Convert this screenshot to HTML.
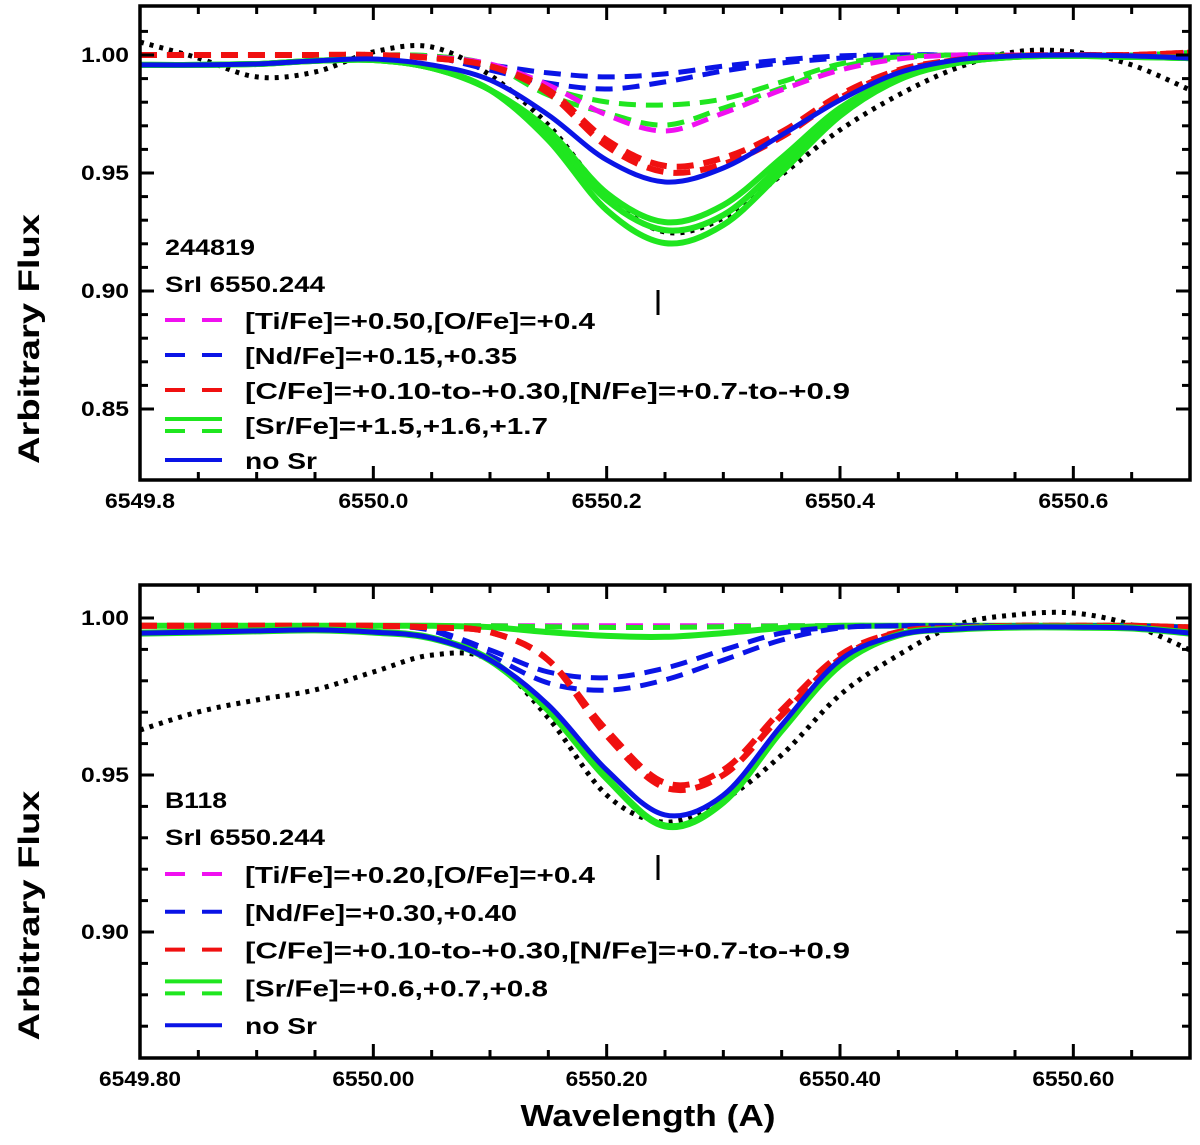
<!DOCTYPE html>
<html><head><meta charset="utf-8">
<style>
html,body{margin:0;padding:0;background:#fff;}
svg{display:block;font-family:"Liberation Sans",sans-serif;font-weight:bold;}
</style></head>
<body>
<svg id="chart" width="1200" height="1145" viewBox="0 0 1200 1145" xmlns="http://www.w3.org/2000/svg"></svg>
<script>
// shared wavelength grid
const waves = [6549.80,6549.85,6549.90,6549.95,6550.00,6550.05,6550.10,6550.15,6550.20,6550.25,6550.30,6550.35,6550.40,6550.45,6550.50,6550.55,6550.60,6550.65,6550.70];

// ---- top panel (244819) ----
const topObserved = [1.0055,0.9987,0.9907,0.9928,1.0013,1.0034,0.9915,0.9703,0.9407,0.925,0.9309,0.9492,0.9682,0.983,0.9945,1.0013,1.0013,0.9958,0.9852];
const topNoSr = [0.9958,0.9958,0.9962,0.9975,0.9983,0.9958,0.9894,0.9746,0.9555,0.9462,0.9521,0.9661,0.9809,0.9924,0.9979,0.9996,1.0,0.9996,0.9987];
const topSrSolid1 = [0.9958,0.9958,0.9962,0.9975,0.9979,0.9945,0.9852,0.9682,0.9415,0.9292,0.9364,0.9564,0.9775,0.9903,0.9966,0.9992,0.9996,0.9992,0.9987];
const topSrSolid2 = [0.9958,0.9958,0.9962,0.9975,0.9979,0.9945,0.9852,0.9661,0.9386,0.9258,0.9322,0.9534,0.9758,0.9903,0.9966,0.9992,0.9996,0.9992,0.9987];
const topSrSolid3 = [0.9958,0.9958,0.9962,0.9975,0.9979,0.9945,0.9852,0.964,0.9343,0.9203,0.928,0.9504,0.9742,0.9894,0.9966,0.9992,0.9996,0.9992,0.9987];
const topSrDash1 = [1,1,1,1,1,0.9996,0.9958,0.986,0.9801,0.9788,0.9814,0.9886,0.9962,0.9992,1,1,1,1,1.001];
const topSrDash2 = [1,1,1,1,1,0.9996,0.9958,0.983,0.9754,0.9703,0.9775,0.986,0.9949,0.9987,1,1,1,1,1.001];
const topC1 = [1,1,1,1,1,0.9987,0.9953,0.9852,0.964,0.953,0.9564,0.9674,0.9831,0.9936,0.9979,0.9996,1,1,1.001];
const topC2 = [1,1,1,1,1,0.9987,0.9953,0.9839,0.9614,0.9504,0.9538,0.9653,0.9818,0.993,0.9979,0.9996,1,1,1.001];
const topTi = [1,1,1,1,1,0.9992,0.9962,0.9873,0.9746,0.9678,0.9754,0.9852,0.9936,0.9983,1,1,1,1,1.001];
const topNd1 = [1,1,1,1,1,0.9992,0.9958,0.9924,0.9907,0.992,0.9953,0.9979,0.9996,1,1,1,1,1,1.001];
const topNd2 = [1,1,1,1,1,0.9992,0.9936,0.9881,0.9856,0.9886,0.9932,0.9966,0.9987,1,1,1,1,1,1.001];

// ---- bottom panel (B118) ----
const botObserved = [0.9643,0.9701,0.9739,0.9771,0.9828,0.9882,0.9866,0.9682,0.9436,0.935,0.942,0.9564,0.9755,0.9882,0.9978,1.001,1.0016,0.9978,0.9898];
const botNoSr = [0.9952,0.9955,0.9959,0.9962,0.9955,0.9936,0.9866,0.9723,0.9516,0.9373,0.9436,0.9659,0.9866,0.9946,0.9965,0.9971,0.9971,0.9968,0.9952];
const botSrSolidDeep = [0.9952,0.9955,0.9959,0.9962,0.9955,0.9936,0.9866,0.9707,0.949,0.9338,0.9414,0.9643,0.985,0.9946,0.9965,0.9971,0.9971,0.9968,0.9952];
const botSrSolidShallow = [0.9975,0.9975,0.9975,0.9975,0.9975,0.9975,0.9971,0.9955,0.9943,0.994,0.9952,0.9968,0.9975,0.9975,0.9975,0.9975,0.9975,0.9975,0.997];
const botSrDash = [0.9975,0.9975,0.9975,0.9975,0.9975,0.9975,0.9975,0.9972,0.997,0.997,0.9972,0.9975,0.9975,0.9975,0.9975,0.9975,0.9975,0.997,0.9965];
const botTi = [0.9975,0.9975,0.9975,0.9975,0.9975,0.9975,0.9975,0.9975,0.9975,0.9975,0.9975,0.9975,0.9975,0.9975,0.9975,0.9975,0.9975,0.9975,0.997];
const botC1 = [0.9975,0.9975,0.9975,0.9975,0.9975,0.997,0.9955,0.9866,0.9643,0.9475,0.9516,0.9707,0.9882,0.9955,0.9968,0.9975,0.9975,0.9975,0.997];
const botC2 = [0.9975,0.9975,0.9975,0.9975,0.9975,0.997,0.9955,0.9866,0.9625,0.946,0.95,0.969,0.987,0.9955,0.9968,0.9975,0.9975,0.9975,0.997];
const botNd1 = [0.9975,0.9975,0.9975,0.9975,0.9975,0.9962,0.9898,0.9828,0.981,0.984,0.9898,0.9952,0.9971,0.9975,0.9975,0.9975,0.9975,0.9975,0.997];
const botNd2 = [0.9975,0.9975,0.9975,0.9975,0.9975,0.996,0.988,0.9793,0.977,0.9803,0.9866,0.993,0.9968,0.9975,0.9975,0.9975,0.9975,0.9975,0.997];

// tick labels
const topXLabels = ["6549.8","6550.0","6550.2","6550.4","6550.6"];
const botXLabels = ["6549.80","6550.00","6550.20","6550.40","6550.60"];
const xTickValues = [6549.8,6550.0,6550.2,6550.4,6550.6];
const topYLabels = ["1.00","0.95","0.90","0.85"];
const topYValues = [1.00,0.95,0.90,0.85];
const botYLabels = ["1.00","0.95","0.90"];
const botYValues = [1.00,0.95,0.90];

const NS = "http://www.w3.org/2000/svg";
const svg = document.getElementById('chart');
function mk(tag, attrs, parent){
  const e = document.createElementNS(NS, tag);
  for (const k in attrs) e.setAttribute(k, attrs[k]);
  (parent||svg).appendChild(e);
  return e;
}
function smoothPath(pts){
  let d = `M${pts[0][0].toFixed(1)},${pts[0][1].toFixed(1)}`;
  for (let i=0;i<pts.length-1;i++){
    const p0=pts[Math.max(0,i-1)], p1=pts[i], p2=pts[i+1], p3=pts[Math.min(pts.length-1,i+2)];
    const c1x=p1[0]+(p2[0]-p0[0])/6, c1y=p1[1]+(p2[1]-p0[1])/6;
    const c2x=p2[0]-(p3[0]-p1[0])/6, c2y=p2[1]-(p3[1]-p1[1])/6;
    d += ` C${c1x.toFixed(1)},${c1y.toFixed(1)} ${c2x.toFixed(1)},${c2y.toFixed(1)} ${p2[0].toFixed(1)},${p2[1].toFixed(1)}`;
  }
  return d;
}

function panel(cfg){
  const g = mk('g', {});
  
  
  const L=140, R=1190, T=cfg.top, B=cfg.bottom;
  const xS = w => L + (w - 6549.8) / (6550.7 - 6549.8) * (R - L);
  const yS = v => cfg.y100 + (1.0 - v) / 0.05 * cfg.pxPer05;
  const clip = mk('clipPath', {id: cfg.name+'-clip'}, g);
  mk('rect', {x:L, y:T, width:R-L, height:B-T}, clip);
  const plot = mk('g', {'clip-path': `url(#${cfg.name}-clip)`}, g);
  cfg.series.forEach(s => {
    const pts = waves.map((w,i) => [xS(w), yS(s.data[i])]);
    const attrs = {d: smoothPath(pts), fill:'none', stroke:s.color, 'stroke-width':s.w||5, 'stroke-linejoin':'round'};
    if (s.dash) attrs['stroke-dasharray'] = s.dash;
    const p = mk('path', attrs, plot);
    
    
  });
  const fr = mk('rect', {x:L, y:T, width:R-L, height:B-T, fill:'none', stroke:'#000', 'stroke-width':3.5}, g);
  
  
  for (let k=0;k<=18;k++){
    const x = xS(6549.8 + k*0.05);
    const major = k % 4 === 0;
    const len = major ? 14 : 8;
    mk('line', {x1:x, y1:B, x2:x, y2:B-len, stroke:'#000','stroke-width':3}, g);
    mk('line', {x1:x, y1:T, x2:x, y2:T+len, stroke:'#000','stroke-width':3}, g);
  }
  for (let v = 0.85; v <= 1.03; v += 0.01){
    const y = yS(v);
    if (y < T+2 || y > B-2) continue;
    const major = Math.abs(Math.round(v*100) % 5) === 0;
    const len = major ? 14 : 8;
    mk('line', {x1:L, y1:y, x2:L+len, y2:y, stroke:'#000','stroke-width':3}, g);
    mk('line', {x1:R, y1:y, x2:R-len, y2:y, stroke:'#000','stroke-width':3}, g);
  }
  cfg.xLabels.forEach((lab,i) => {
    const t = mk('text', {x:xS(xTickValues[i]), y:B+28, 'text-anchor':'middle','font-size':21, textLength:cfg.xLabLen, lengthAdjust:'spacingAndGlyphs'}, g);
    t.textContent = lab;
    
    
  });
  cfg.yLabels.forEach((lab,i) => {
    const t = mk('text', {x:129, y:yS(cfg.yValues[i])+7, 'text-anchor':'end','font-size':21, textLength:48, lengthAdjust:'spacingAndGlyphs'}, g);
    t.textContent = lab;
    
    
  });
  const cy = (T+B)/2 + cfg.titleOff;
  const yt = mk('text', {x:0, y:0, transform:`translate(39,${cy}) rotate(-90)`, 'text-anchor':'middle','font-size':30, textLength:250, lengthAdjust:'spacingAndGlyphs'}, g);
  yt.textContent = 'Arbitrary Flux';
  
  
  const t1 = mk('text', {x:165, y:cfg.nameY, 'font-size':22, textLength:cfg.starLen, lengthAdjust:'spacingAndGlyphs'}, g);
  t1.textContent = cfg.star;
  
  
  const t2 = mk('text', {x:165, y:cfg.nameY+37, 'font-size':22, textLength:160, lengthAdjust:'spacingAndGlyphs'}, g);
  t2.textContent = 'SrI 6550.244';
  
  
  const mx = xS(6550.244);
  const mkr = mk('line', {x1:mx, y1:cfg.markY, x2:mx, y2:cfg.markY+25, stroke:'#000','stroke-width':3}, g);
  
  
  const leg = mk('g', {}, g);
  
  
  cfg.legend.forEach((e,i) => {
    const ry = cfg.legY + i*cfg.legStep;
    e.lines.forEach(l => {
      const a = {x1:165, y1:ry+l.dy, x2:222, y2:ry+l.dy, stroke:l.c, 'stroke-width':4};
      if (l.dash) a['stroke-dasharray'] = '20,17';
      mk('line', a, leg);
    });
    const t = mk('text', {x:245, y:ry+9, 'font-size':23, textLength:e.len, lengthAdjust:'spacingAndGlyphs'}, leg);
    t.textContent = e.text;
    
    
  });
}

panel({name:'top-panel', top:6, bottom:480, y100:55, pxPer05:118, titleOff:96,
  xLabels: topXLabels, yLabels: topYLabels, yValues: topYValues, xLabLen:70,
  star:'244819', starLen:90, nameY:255, markY:290, legY:320, legStep:35,
  series:[
    {id:'observed-spectrum', data:topObserved, color:'#000', dash:'4,6', w:5},
    {id:'nd-dash-1', data:topNd1, color:'#0a14e6', dash:'17,10'},
    {id:'nd-dash-2', data:topNd2, color:'#0a14e6', dash:'17,10'},
    {id:'sr-dash-1', data:topSrDash1, color:'#1fe61f', dash:'17,10'},
    {id:'sr-dash-2', data:topSrDash2, color:'#1fe61f', dash:'17,10'},
    {id:'ti-dash', data:topTi, color:'#f010f0', dash:'17,10'},
    {id:'c-dash-1', data:topC1, color:'#f01010', dash:'17,10', w:6},
    {id:'c-dash-2', data:topC2, color:'#f01010', dash:'17,10', w:6},
    {id:'sr-solid-1', data:topSrSolid1, color:'#1fe61f', w:6},
    {id:'sr-solid-2', data:topSrSolid2, color:'#1fe61f', w:6},
    {id:'sr-solid-3', data:topSrSolid3, color:'#1fe61f', w:6},
    {id:'no-sr-line', data:topNoSr, color:'#0a14e6', w:5}
  ],
  legend:[
    {lines:[{c:'#f010f0',dash:1,dy:0}], text:'[Ti/Fe]=+0.50,[O/Fe]=+0.4', len:350},
    {lines:[{c:'#0a14e6',dash:1,dy:0}], text:'[Nd/Fe]=+0.15,+0.35', len:272},
    {lines:[{c:'#f01010',dash:1,dy:0}], text:'[C/Fe]=+0.10-to-+0.30,[N/Fe]=+0.7-to-+0.9', len:605},
    {lines:[{c:'#1fe61f',dy:-6},{c:'#1fe61f',dash:1,dy:6}], text:'[Sr/Fe]=+1.5,+1.6,+1.7', len:303},
    {lines:[{c:'#0a14e6',dy:0}], text:'no Sr', len:72}
  ]});

panel({name:'bottom-panel', top:585, bottom:1058, y100:618, pxPer05:157, titleOff:94,
  xLabels: botXLabels, yLabels: botYLabels, yValues: botYValues, xLabLen:82,
  star:'B118', starLen:62, nameY:808, markY:855, legY:874, legStep:37.8,
  series:[
    {id:'observed-spectrum', data:botObserved, color:'#000', dash:'4,6', w:5},
    {id:'ti-dash', data:botTi, color:'#f010f0', dash:'17,10'},
    {id:'sr-dash', data:botSrDash, color:'#1fe61f', dash:'17,10'},
    {id:'sr-solid-shallow', data:botSrSolidShallow, color:'#1fe61f', w:6},
    {id:'nd-dash-1', data:botNd1, color:'#0a14e6', dash:'17,10'},
    {id:'nd-dash-2', data:botNd2, color:'#0a14e6', dash:'17,10'},
    {id:'c-dash-1', data:botC1, color:'#f01010', dash:'17,10', w:6},
    {id:'c-dash-2', data:botC2, color:'#f01010', dash:'17,10', w:6},
    {id:'sr-solid-deep', data:botSrSolidDeep, color:'#1fe61f', w:7},
    {id:'no-sr-line', data:botNoSr, color:'#0a14e6', w:5}
  ],
  legend:[
    {lines:[{c:'#f010f0',dash:1,dy:0}], text:'[Ti/Fe]=+0.20,[O/Fe]=+0.4', len:350},
    {lines:[{c:'#0a14e6',dash:1,dy:0}], text:'[Nd/Fe]=+0.30,+0.40', len:272},
    {lines:[{c:'#f01010',dash:1,dy:0}], text:'[C/Fe]=+0.10-to-+0.30,[N/Fe]=+0.7-to-+0.9', len:605},
    {lines:[{c:'#1fe61f',dy:-6},{c:'#1fe61f',dash:1,dy:6}], text:'[Sr/Fe]=+0.6,+0.7,+0.8', len:303},
    {lines:[{c:'#0a14e6',dy:0}], text:'no Sr', len:72}
  ]});

const xt = mk('text', {x:648, y:1126, 'text-anchor':'middle','font-size':31, textLength:255, lengthAdjust:'spacingAndGlyphs'});
xt.textContent = 'Wavelength (A)';


</script>
</body></html>
